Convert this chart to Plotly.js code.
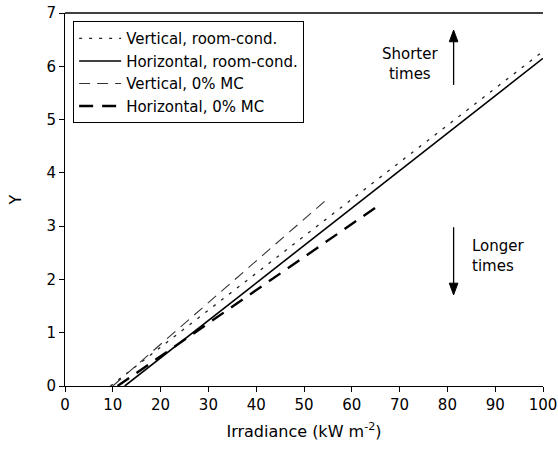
<!DOCTYPE html>
<html>
<head>
<meta charset="utf-8">
<script src="https://cdn.plot.ly/plotly-3.0.1.min.js"></script>
<style>html,body{margin:0;padding:0;background:#fff;}#chart{width:558px;height:460px;}</style>
</head>
<body>
<div id="chart"></div>
<script>
// Data
const seriesNames = ["Vertical, room-cond.", "Horizontal, room-cond.", "Vertical, 0% MC", "Horizontal, 0% MC"];
const xVertRC = [9.5, 100];
const yVertRC = [0, 6.28];
const xHorRC = [12.5, 100];
const yHorRC = [0, 6.15];
const xVert0 = [10, 55];
const yVert0 = [0, 3.52];
const xHor0 = [11, 65];
const yHor0 = [0, 3.35];
const xTicks = [0, 10, 20, 30, 40, 50, 60, 70, 80, 90, 100];
const yTicks = [0, 1, 2, 3, 4, 5, 6, 7];

const font = "DejaVu Sans, Verdana, sans-serif";

const traces = [
  {x: xVertRC, y: yVertRC, name: seriesNames[0], mode: "lines",
   line: {color: "#222", width: 1.3, dash: "3px,7px"}},
  {x: xHorRC, y: yHorRC, name: seriesNames[1], mode: "lines",
   line: {color: "#000", width: 1.6}},
  {x: xVert0, y: yVert0, name: seriesNames[2], mode: "lines",
   line: {color: "#333", width: 1.1, dash: "11px,7px"}},
  {x: xHor0, y: yHor0, name: seriesNames[3], mode: "lines",
   line: {color: "#000", width: 2.4, dash: "14px,9px"}}
];

// arrow geometry (decoration, not data)
const arrowX = 81.3;
function arrowShapes(yTail, yHead) {
  const dir = yHead > yTail ? 1 : -1;
  const hl = 0.22, hw = 0.9;
  return [
    {type: "line", xref: "x", yref: "y", x0: arrowX, x1: arrowX, y0: yTail, y1: yHead - dir * hl * 0.8,
     line: {color: "#000", width: 1.3}},
    {type: "path", xref: "x", yref: "y",
     path: "M " + (arrowX - hw) + " " + (yHead - dir * hl) + " L " + arrowX + " " + yHead +
           " L " + (arrowX + hw) + " " + (yHead - dir * hl) + " Z",
     fillcolor: "#000", line: {color: "#000", width: 1}}
  ];
}

const layout = {
  width: 558, height: 460,
  margin: {l: 65, r: 15, t: 13, b: 74},
  paper_bgcolor: "#fff", plot_bgcolor: "#fff",
  font: {family: font, size: 15, color: "#000"},
  showlegend: true,
  legend: {x: 0.017, y: 0.978, xanchor: "left", yanchor: "top",
           bordercolor: "#000", borderwidth: 1, bgcolor: "#fff",
           font: {family: font, size: 15, color: "#000"},
           tracegroupgap: 0, itemwidth: 42},
  xaxis: {range: [0, 100], tickvals: xTicks, ticks: "outside", ticklen: 5,
          tickcolor: "#000", showline: true, linecolor: "#000", linewidth: 1,
          showgrid: false, zeroline: false, fixedrange: true,
          title: {text: "Irradiance (kW m<sup>-2</sup>)", font: {family: font, size: 16}, standoff: 12},
          tickfont: {family: font, size: 15}},
  yaxis: {range: [0, 7], tickvals: yTicks, ticks: "outside", ticklen: 5,
          tickcolor: "#000", showline: true, linecolor: "#000", linewidth: 1,
          showgrid: false, zeroline: false, fixedrange: true,
          title: {text: "Y", font: {family: font, size: 16}, standoff: 20},
          tickfont: {family: font, size: 15}},
  shapes: [
    {type: "line", xref: "paper", yref: "paper", x0: 0, x1: 1, y0: 1, y1: 1,
     line: {color: "#000", width: 1.5}}
  ].concat(arrowShapes(5.65, 6.68), arrowShapes(2.98, 1.71)),
  annotations: [
    {x: 72.2, y: 6.04, xref: "x", yref: "y", text: "Shorter<br>times", showarrow: false,
     xanchor: "center", align: "center", font: {family: font, size: 15}},
    {x: 84.7, y: 2.44, xref: "x", yref: "y", text: "Longer<br>times", showarrow: false,
     xanchor: "left", align: "left", font: {family: font, size: 15}}
  ]
};

Plotly.newPlot("chart", traces, layout, {displayModeBar: false, staticPlot: true});
</script>
</body>
</html>
